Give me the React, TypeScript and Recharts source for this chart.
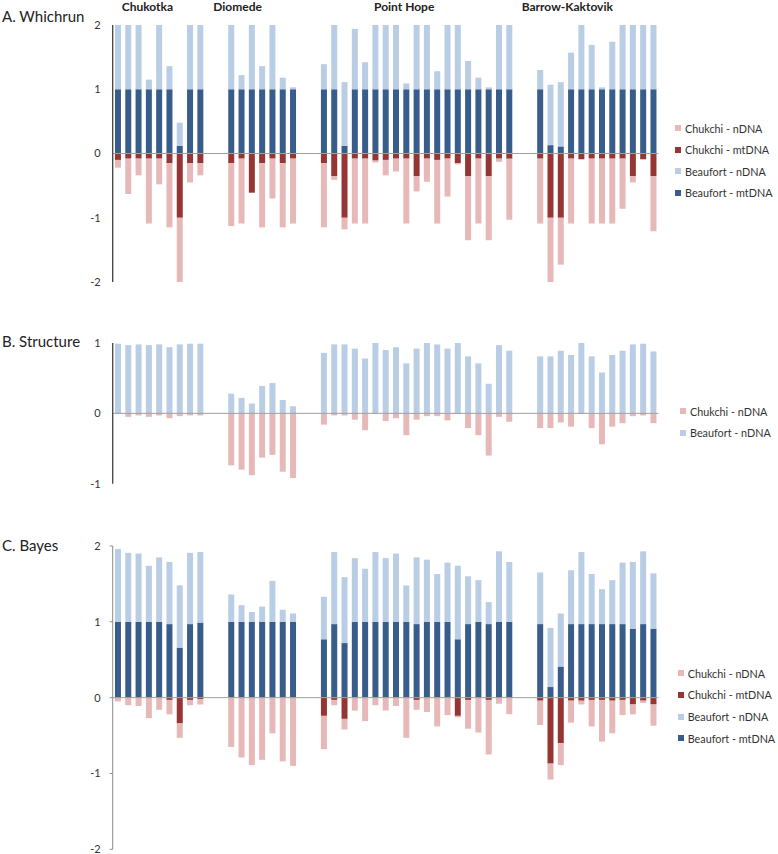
import React from 'react'
import { BarChart, Bar, XAxis, YAxis, ReferenceLine } from 'recharts'

const groups = ['Chukotka', 'Diomede', 'Point Hope', 'Barrow-Kaktovik']

// A. Whichrun  (one inner array per group; Chukchi values are drawn below zero)
const whichrunBeaufortMt = [
  [1, 1, 1, 1, 1, 1, 0.12, 1, 1],
  [1, 1, 1, 1, 1, 1, 1],
  [1, 1, 0.12, 1, 1, 1, 1, 1, 1, 1, 1, 1, 1, 1, 1, 1, 1, 1, 1],
  [1, 0.13, 0.11, 1, 1, 1, 1, 1, 1, 1, 1, 1],
]
const whichrunBeaufortN = [
  [1, 1, 1, 0.15, 1, 0.36, 0.36, 1, 1],
  [1, 0.22, 1, 0.36, 1, 0.18, 0.03],
  [0.39, 1, 0.99, 0.94, 0.42, 1, 1, 1, 0.09, 1, 1, 0.28, 1, 1, 0.44, 0.18, 0.03, 1, 1],
  [0.3, 0.94, 1, 0.57, 1, 0.69, 0.03, 0.74, 1, 1, 1, 1],
]
const whichrunChukchiMt = [
  [0.1, 0.08, 0.08, 0.08, 0.08, 0.15, 1, 0.15, 0.15],
  [0.15, 0.08, 0.61, 0.15, 0.08, 0.15, 0.08],
  [0.15, 0.35, 1, 0.08, 0.08, 0.11, 0.1, 0.08, 0.08, 0.35, 0.08, 0.1, 0.08, 0.15, 0.35, 0.08, 0.35, 0.08, 0.08],
  [0.08, 1, 1, 0.08, 0.09, 0.08, 0.08, 0.08, 0.08, 0.35, 0.09, 0.35],
]
const whichrunChukchiN = [
  [0.12, 0.55, 0.26, 1.01, 0.4, 1, 1, 0.3, 0.19],
  [0.98, 1.01, 0, 1, 0.62, 1, 1.01],
  [1, 0.06, 0.18, 1.01, 1.01, 0.03, 0.24, 0.2, 1.01, 0.24, 0.36, 0.99, 0.59, 0.02, 1, 1.01, 1, 0.05, 0.95],
  [1.01, 1, 0.73, 1.01, 0, 1.01, 1.01, 1.01, 0.78, 0.1, 0, 0.86],
]

// B. Structure
const structureBeaufortN = [
  [0.99, 0.97, 0.98, 0.97, 0.98, 0.94, 0.98, 0.99, 0.99],
  [0.28, 0.22, 0.14, 0.39, 0.43, 0.19, 0.1],
  [0.86, 0.98, 0.98, 0.92, 0.78, 1, 0.9, 0.94, 0.71, 0.92, 1, 0.98, 0.92, 1, 0.81, 0.71, 0.42, 0.97, 0.89],
  [0.81, 0.81, 0.89, 0.83, 1, 0.81, 0.58, 0.83, 0.89, 0.98, 0.99, 0.88],
]
const structureChukchiN = [
  [0.01, 0.05, 0.03, 0.05, 0.03, 0.07, 0.04, 0.03, 0.03],
  [0.74, 0.8, 0.88, 0.63, 0.59, 0.83, 0.92],
  [0.16, 0.03, 0.03, 0.09, 0.24, 0.01, 0.11, 0.07, 0.31, 0.09, 0.04, 0.04, 0.1, 0.01, 0.21, 0.31, 0.6, 0.05, 0.12],
  [0.21, 0.21, 0.13, 0.19, 0.01, 0.21, 0.44, 0.19, 0.14, 0.04, 0.03, 0.14],
]

// C. Bayes
const bayesBeaufortMt = [
  [1, 1, 1, 1, 1, 0.97, 0.66, 0.97, 0.99],
  [1, 1, 1, 1, 1, 1, 1],
  [0.77, 0.97, 0.72, 1, 1, 1, 1, 1, 1, 0.97, 1, 1, 1, 0.77, 0.97, 1, 0.97, 1, 1],
  [0.97, 0.14, 0.41, 0.97, 0.97, 0.97, 0.97, 0.97, 0.97, 0.91, 0.97, 0.91],
]
const bayesBeaufortN = [
  [0.96, 0.91, 0.9, 0.74, 0.85, 0.82, 0.82, 0.94, 0.93],
  [0.36, 0.22, 0.13, 0.2, 0.54, 0.16, 0.11],
  [0.56, 0.95, 0.87, 0.84, 0.7, 0.92, 0.84, 0.9, 0.48, 0.88, 0.82, 0.63, 0.78, 0.97, 0.63, 0.55, 0.29, 0.93, 0.79],
  [0.68, 0.78, 0.7, 0.71, 0.95, 0.66, 0.46, 0.58, 0.81, 0.88, 0.96, 0.73],
]
const bayesChukchiMt = [
  [0, 0, 0, 0, 0, 0.03, 0.34, 0.03, 0.02],
  [0, 0, 0, 0, 0, 0, 0],
  [0.24, 0.03, 0.28, 0, 0, 0, 0, 0, 0, 0.03, 0, 0, 0, 0.24, 0.03, 0, 0.03, 0, 0],
  [0.04, 0.87, 0.6, 0.04, 0.04, 0.03, 0.03, 0.04, 0.03, 0.09, 0.04, 0.09],
]
const bayesChukchiN = [
  [0.05, 0.1, 0.11, 0.27, 0.16, 0.19, 0.19, 0.07, 0.07],
  [0.65, 0.79, 0.89, 0.82, 0.47, 0.84, 0.9],
  [0.44, 0.07, 0.14, 0.17, 0.31, 0.1, 0.17, 0.11, 0.53, 0.13, 0.19, 0.38, 0.23, 0.02, 0.38, 0.46, 0.72, 0.08, 0.22],
  [0.32, 0.21, 0.29, 0.29, 0.05, 0.35, 0.55, 0.43, 0.2, 0.13, 0.03, 0.28],
]

const FONT = 'Lato, "Open Sans", sans-serif'

type Series = { key: string; name: string; color: string; below?: boolean }

const beaufortMt: Series = { key: 'beaufortMt', name: 'Beaufort - mtDNA', color: '#385d8a' }
const beaufortN: Series = { key: 'beaufortN', name: 'Beaufort - nDNA', color: '#b9cde5' }
const chukchiMt: Series = { key: 'chukchiMt', name: 'Chukchi - mtDNA', color: '#963634', below: true }
const chukchiN: Series = { key: 'chukchiN', name: 'Chukchi - nDNA', color: '#e6b9b8', below: true }

function buildRows(series: Series[], values: number[][][]) {
  const rows: Record<string, any>[] = []
  groups.forEach((g, gi) => {
    if (gi > 0) rows.push({ id: `gap${gi}a` }, { id: `gap${gi}b` })
    const n = values[0][gi].length
    for (let i = 0; i < n; i++) {
      const row: Record<string, any> = { id: `${g} ${i + 1}` }
      series.forEach((s, si) => {
        const v = values[si][gi][i]
        row[s.key] = s.below ? -v : v
      })
      rows.push(row)
    }
  })
  return rows
}

type PanelProps = {
  title: string
  titleTop: number
  plotTop: number
  plotHeight: number
  ticks: number[]
  series: Series[]
  values: number[][][]
  legend: Series[]
  legendX: number
  legendY: number
  lightAxis?: boolean
}

function Panel(p: PanelProps) {
  const rows = buildRows(p.series, p.values)
  const axisColor = p.lightAxis ? '#8c8c8c' : '#404040'
  const dom = [p.ticks[0], p.ticks[p.ticks.length - 1]]
  return (
    <>
      <div style={{ position: 'absolute', left: 2, top: p.titleTop, fontSize: 15, fontFamily: FONT, color: '#222' }}>
        {p.title}
      </div>
      <div style={{ position: 'absolute', left: 0, top: p.plotTop - 10 }}>
        <BarChart
          width={778}
          height={p.plotHeight + 20}
          data={rows}
          stackOffset="sign"
          barCategoryGap="22%"
          margin={{ top: 10, right: 119.5, bottom: 10, left: 72.7 }}
        >
          <XAxis dataKey="id" hide />
          <YAxis
            width={40}
            type="number"
            domain={dom}
            ticks={p.ticks}
            interval={0}
            axisLine={{ stroke: axisColor, strokeWidth: p.lightAxis ? 1 : 1.3 }}
            tickLine={p.lightAxis ? { stroke: axisColor } : false}
            tickSize={3}
            tickMargin={9}
            tick={{ fill: '#333', fontSize: 11, fontFamily: FONT }}
          />
          {p.series.map((s) => (
            <Bar key={s.key} dataKey={s.key} name={s.name} stackId="a" fill={s.color} isAnimationActive={false} />
          ))}
          <ReferenceLine y={0} stroke="#a0a0a0" strokeWidth={1} />
        </BarChart>
      </div>
      {p.legend.map((s, i) => (
        <div
          key={s.key}
          style={{
            position: 'absolute',
            left: p.legendX,
            top: p.legendY + i * 21.6 - 8,
            height: 16,
            display: 'flex',
            alignItems: 'center',
            fontFamily: FONT,
            fontSize: 10.8,
            color: '#333',
            whiteSpace: 'nowrap',
          }}
        >
          <span style={{ width: 6, height: 6, background: s.color, marginRight: 4, display: 'inline-block' }} />
          {s.name}
        </div>
      ))}
    </>
  )
}

const groupTitleX = [121.7, 213.3, 374, 521.7]

export default function App() {
  return (
    <div style={{ position: 'absolute', left: 0, top: 0, width: 778, height: 854, overflow: 'hidden', background: '#fff' }}>
      {groups.map((g, i) => (
        <div
          key={g}
          style={{ position: 'absolute', left: groupTitleX[i], top: -1, fontSize: 12, fontWeight: 700, fontFamily: FONT, color: '#222' }}
        >
          {g}
        </div>
      ))}
      <Panel
        title="A. Whichrun"
        titleTop={7}
        plotTop={25}
        plotHeight={257}
        ticks={[-2, -1, 0, 1, 2]}
        series={[beaufortMt, beaufortN, chukchiMt, chukchiN]}
        values={[whichrunBeaufortMt, whichrunBeaufortN, whichrunChukchiMt, whichrunChukchiN]}
        legend={[chukchiN, chukchiMt, beaufortN, beaufortMt]}
        legendX={675}
        legendY={128}
      />
      <Panel
        title="B. Structure"
        titleTop={332}
        plotTop={343.3}
        plotHeight={140.7}
        ticks={[-1, 0, 1]}
        series={[beaufortN, chukchiN]}
        values={[structureBeaufortN, structureChukchiN]}
        legend={[chukchiN, beaufortN]}
        legendX={680}
        legendY={411.3}
      />
      <Panel
        title="C. Bayes"
        titleTop={536}
        plotTop={546}
        plotHeight={303.3}
        ticks={[-2, -1, 0, 1, 2]}
        series={[beaufortMt, beaufortN, chukchiMt, chukchiN]}
        values={[bayesBeaufortMt, bayesBeaufortN, bayesChukchiMt, bayesChukchiN]}
        legend={[chukchiN, chukchiMt, beaufortN, beaufortMt]}
        legendX={677.7}
        legendY={673.3}
        lightAxis
      />
    </div>
  )
}
